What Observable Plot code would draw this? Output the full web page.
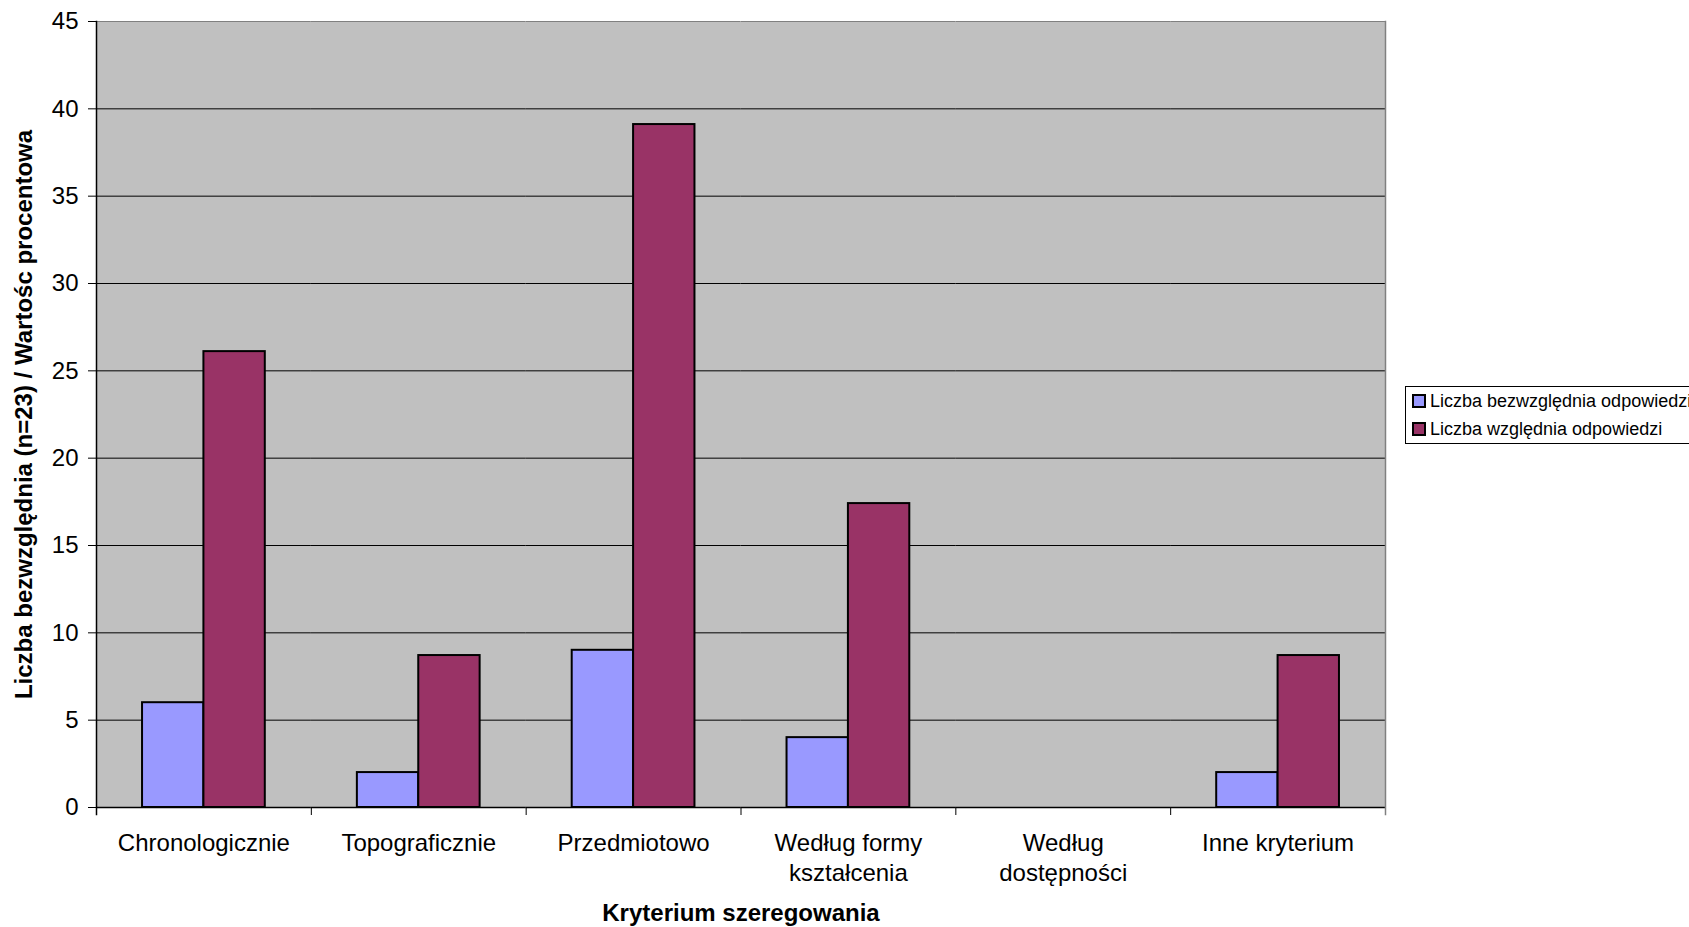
<!DOCTYPE html>
<html>
<head>
<meta charset="utf-8">
<script src="https://cdn.jsdelivr.net/npm/d3@7"></script>
<script src="https://cdn.jsdelivr.net/npm/@observablehq/plot@0.6"></script>
<style>
  html, body { margin: 0; padding: 0; background: #fff; width: 1689px; height: 927px; overflow: hidden; }
  #chart { position: absolute; left: 0; top: 0; }
  #legend {
    position: absolute; left: 1405px; top: 386px;
    border: 1px solid #000; background: #fff;
    padding: 0; white-space: nowrap;
    font-family: "Liberation Sans", Arial, sans-serif; font-size: 18px; color: #000;
  }
  #legend .row { height: 28px; display: flex; align-items: center; padding-left: 6px; padding-right: 10px; }
  #legend .sw { width: 10px; height: 10px; border: 2px solid #000; margin-right: 4px; flex: none; }
</style>
</head>
<body>
<div id="chart"></div>
<div id="legend"></div>
<script>
// ---- data ----
const categories = ["Chronologicznie", "Topograficznie", "Przedmiotowo", "Według formy kształcenia", "Według dostępności", "Inne kryterium"];
const tickLabels = ["Chronologicznie", "Topograficznie", "Przedmiotowo", "Według formy\nkształcenia", "Według\ndostępności", "Inne kryterium"];
const seriesNames = ["Liczba bezwzględnia odpowiedzi", "Liczba względnia odpowiedzi"];
const absoluteCounts = [6, 2, 9, 4, 0, 2];
const relativePercent = [26.1, 8.7, 39.1, 17.4, 0, 8.7];
const seriesColors = ["#9999FF", "#993366"];
const yTicks = [0, 5, 10, 15, 20, 25, 30, 35, 40, 45];
const gridTicks = [5, 10, 15, 20, 25, 30, 35, 40];
const yTitle = "Liczba bezwzględnia (n=23) / Wartośc procentowa";
const xTitle = "Kryterium szeregowania";

const rows = categories.flatMap((c, i) => [
  {category: c, series: seriesNames[0], value: absoluteCounts[i]},
  {category: c, series: seriesNames[1], value: relativePercent[i]}
]);

const plotH = 927 - 21 - 120;

const chart = Plot.plot({
  width: 1400,
  height: 927,
  marginLeft: 96,
  marginRight: 15,
  marginTop: 21,
  marginBottom: 120,
  style: {fontFamily: "'Liberation Sans', Arial, sans-serif", fontSize: "24px", color: "#000", background: "transparent", overflow: "visible"},
  fx: {domain: categories, padding: 0, round: false},
  x: {domain: seriesNames, paddingInner: 0, paddingOuter: 0.75, round: false, axis: null},
  y: {domain: [0, 45]},
  color: {domain: seriesNames, range: seriesColors},
  marks: [
    Plot.frame({fill: "#C0C0C0", stroke: "none", shapeRendering: "crispEdges"}),
    Plot.gridY(gridTicks, {stroke: "#000", strokeOpacity: 1, strokeWidth: 1}),
    Plot.ruleY([45], {stroke: "#808080", strokeWidth: 1}),
    Plot.barY(rows, {
      filter: d => d.value > 0,
      fx: "category", x: "series", y: "value",
      fill: "series", stroke: "#000", strokeWidth: 2
    }),
    Plot.ruleY([0], {stroke: "#000", strokeWidth: 1.5}),
    Plot.frame({anchor: "right", facetAnchor: "right", stroke: "#808080", strokeWidth: 1.5, insetBottom: -7}),
    Plot.frame({anchor: "left", facetAnchor: "left", stroke: "#000", strokeWidth: 1.5, insetBottom: -7}),
    Plot.frame({anchor: "left", stroke: "#000", strokeWidth: 1, insetTop: plotH, insetBottom: -7}),
    Plot.axisY(yTicks, {tickSize: 8, tickPadding: 10, fontSize: 24, label: null, stroke: "#000"}),
    Plot.axisFx({
      anchor: "bottom",
      tickSize: 0, tickPadding: 22, fontSize: 24, label: null, lineHeight: 1.26,
      tickFormat: d => tickLabels[categories.indexOf(d)]
    }),
    Plot.text([yTitle], {
      frameAnchor: "left", facetAnchor: "left", rotate: -90, dx: -72, textAnchor: "middle",
      fontWeight: "bold", fontSize: 24, fill: "#000"
    }),
    Plot.text([xTitle], {
      frameAnchor: "bottom", facet: "super", dy: 113,
      fontWeight: "bold", fontSize: 24, fill: "#000"
    })
  ]
});
document.getElementById("chart").appendChild(chart);

const legend = document.getElementById("legend");
seriesNames.forEach((name, i) => {
  const row = document.createElement("div");
  row.className = "row";
  const sw = document.createElement("span");
  sw.className = "sw";
  sw.style.background = seriesColors[i];
  const label = document.createElement("span");
  label.textContent = name;
  row.appendChild(sw);
  row.appendChild(label);
  legend.appendChild(row);
});
</script>
</body>
</html>
